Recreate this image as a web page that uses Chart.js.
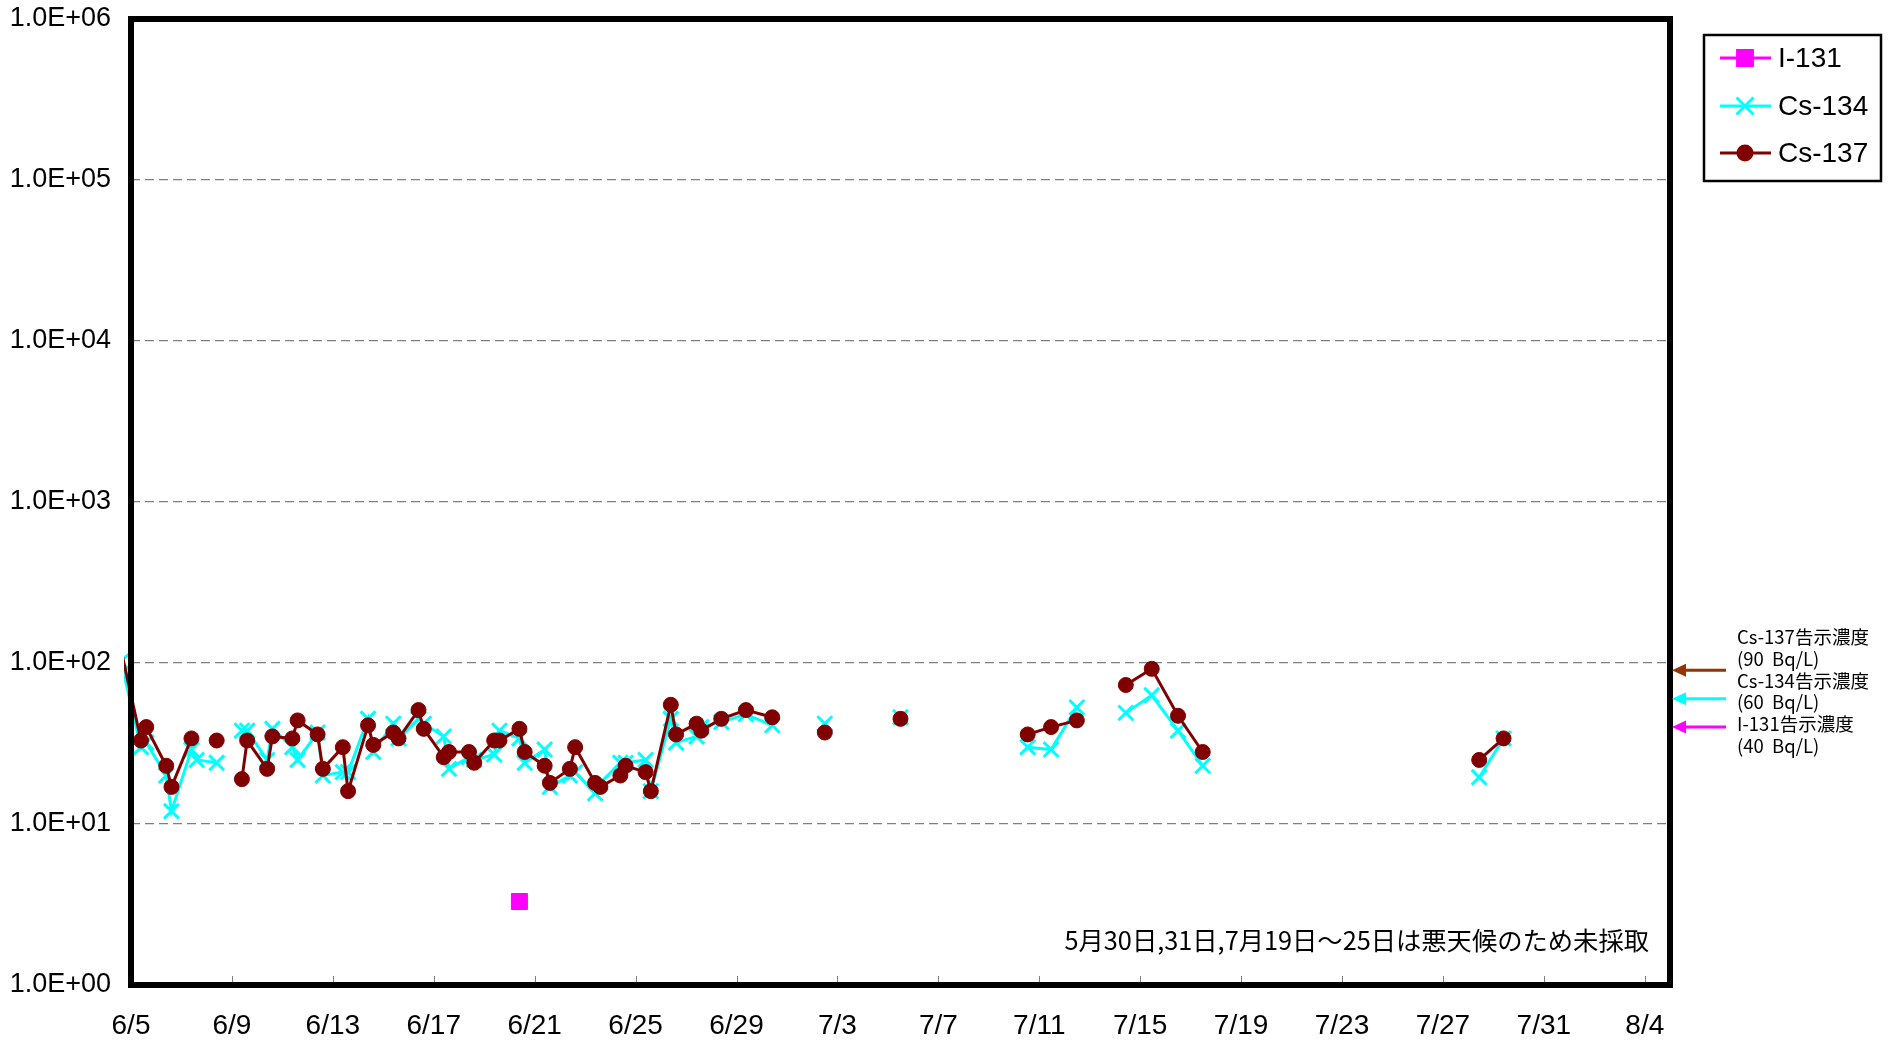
<!DOCTYPE html>
<html>
<head>
<meta charset="utf-8">
<script src="https://cdn.jsdelivr.net/npm/chart.js@4.4.0/dist/chart.umd.min.js"></script>
<style>
html,body{margin:0;padding:0;background:#fff;overflow:hidden}
#wrap{width:1894px;height:1041px;position:relative}
</style>
</head>
<body>
<div id="wrap"><canvas id="c" width="1894" height="1041"></canvas></div>
<script>
// ---- data (sample date/time, values in Bq/L; null = not sampled / not detected) ----
const sampleTimes = [
  "6/4 14:30",
  "6/5 09:30","6/5 14:30","6/6 09:30","6/6 14:30","6/7 09:30","6/7 14:30",
  "6/8 09:30","6/8 14:30","6/9 09:30","6/9 14:30","6/10 09:30","6/10 14:30",
  "6/11 09:30","6/11 14:30","6/12 09:30","6/12 14:30","6/13 09:30","6/13 14:30",
  "6/14 09:30","6/14 14:30","6/15 09:30","6/15 14:30","6/16 09:30","6/16 14:30",
  "6/17 09:30","6/17 14:30","6/18 09:30","6/18 14:30","6/19 09:30","6/19 14:30",
  "6/20 09:30","6/20 14:30","6/21 09:30","6/21 14:30","6/22 09:30","6/22 14:30",
  "6/23 09:30","6/23 14:30","6/24 09:30","6/24 14:30","6/25 09:30","6/25 14:30",
  "6/26 09:30","6/26 14:30","6/27 10:00","6/27 14:30","6/28 09:30","6/29 09:00",
  "6/30 10:00","7/1 12:00","7/2 12:00","7/3 12:00","7/5 12:00","7/6 12:00",
  "7/10 13:00","7/11 11:15","7/12 11:45","7/13 12:00","7/14 10:20","7/15 11:00",
  "7/16 12:00","7/17 11:30","7/18 12:00","7/28 10:30","7/29 09:40"
];
const cs137 = [
  121,
  33,40,23,17,34,null,
  33,null,19,33,22,35,
  34,44,36,22,30,16,
  41,31,37,34,51,39,
  26,28,28,24,33,33,
  39,28,23,18,22,30,
  18,17,20,23,21,16,
  55,36,42,38,45,51,
  46,null,37,null,45,null,
  36,40,44,null,73,92,
  47,28,null,25,34
];
const cs134 = [
  102,
  30,32,20,12,29,25,
  24,null,38,38,25,39,
  30,25,37,20,21,21,
  45,28,42,34,45,42,
  35,22,26,25,27,38,
  34,24,29,17,20,21,
  15.5,18,24,24,25,16,
  45,32,35,40,43,48,
  41,null,42,null,46,null,
  30,29,53,null,49,63,
  38,23,null,19.5,34
];
const i131 = [
  null,
  null,null,null,null,null,null,
  null,null,null,null,null,null,
  null,null,null,null,null,null,
  null,null,null,null,null,null,
  null,null,null,null,null,null,
  3.3,null,null,null,null,null,
  null,null,null,null,null,null,
  null,null,null,null,null,null,
  null,null,null,null,null,null,
  null,null,null,null,null,null,
  null,null,null,null,null
];
const xTickLabels = ["6/5","6/9","6/13","6/17","6/21","6/25","6/29","7/3","7/7","7/11","7/15","7/19","7/23","7/27","7/31","8/4"];
const yTickValues = [1,10,100,1000,10000,100000,1000000];
const yTickLabels = ["1.0E+00","1.0E+01","1.0E+02","1.0E+03","1.0E+04","1.0E+05","1.0E+06"];
const limitLabels = ["Cs-137告示濃度","Cs-134告示濃度","I-131告示濃度"];
const limitUnits = ["(90  Bq/L)","(60  Bq/L)","(40  Bq/L)"];
const limitValues = [90,60,40];
const limitColors = ["#993300","#00FFFF","#FF00FF"];
const noteText = "5月30日,31日,7月19日～25日は悪天候のため未採取";
const axisEnd = "8/5";

// ---- helpers ----
function toDay(s){
  const parts = s.split(" ");
  const md = parts[0].split("/").map(Number);
  const hm = (parts[1] || "00:00").split(":").map(Number);
  return (Date.UTC(2011, md[0]-1, md[1], hm[0], hm[1]) - Date.UTC(2011,5,5)) / 86400000;
}
function series(vals){ return sampleTimes.map((t,i)=>({x: toDay(t), y: vals[i]})); }
const xTickValues = xTickLabels.map(l => toDay(l));

const LATIN = "'Liberation Sans Narrow','Arial Narrow','Liberation Sans',Arial,sans-serif";
const JP = "'Noto Sans CJK JP','Liberation Sans',sans-serif";

const framePlugin = {
  id: 'frame',
  afterDraw(chart){
    const ctx = chart.ctx, a = chart.chartArea;
    const xs = chart.scales.x, ys = chart.scales.y;
    ctx.save();
    // x tick marks (inside, upward)
    ctx.strokeStyle = '#808080'; ctx.lineWidth = 1;
    xTickValues.forEach(v => {
      const px = Math.round(xs.getPixelForValue(v)) + 0.5;
      ctx.beginPath(); ctx.moveTo(px, a.bottom - 3); ctx.lineTo(px, a.bottom - 9); ctx.stroke();
    });
    // thick border
    ctx.strokeStyle = '#000'; ctx.lineWidth = 6;
    ctx.strokeRect(a.left, a.top, a.right - a.left, a.bottom - a.top);

    // legend box
    ctx.lineWidth = 2.5; ctx.strokeStyle = '#000';
    ctx.strokeRect(1704, 35, 177, 146);
    const ds = chart.data.datasets.slice().reverse();
    const ly = [58, 106, 153];
    ds.forEach((d, i) => {
      const y = ly[i];
      ctx.strokeStyle = d.borderColor; ctx.lineWidth = 3;
      ctx.beginPath(); ctx.moveTo(1720, y); ctx.lineTo(1771, y); ctx.stroke();
      ctx.fillStyle = d.pointBackgroundColor; ctx.strokeStyle = d.pointBorderColor;
      Chart.helpers.drawPoint(ctx, {pointStyle: d.pointStyle, radius: d.legendRadius, rotation: 0, borderWidth: d.pointBorderWidth}, 1745, y);
      ctx.fillStyle = '#000'; ctx.font = "28px 'Liberation Sans',Arial,sans-serif";
      ctx.textAlign = 'left'; ctx.textBaseline = 'middle';
      ctx.fillText(d.label, 1778, y + 1);
    });

    // regulatory limit arrows
    limitValues.forEach((v, i) => {
      const y = ys.getPixelForValue(v);
      ctx.strokeStyle = limitColors[i]; ctx.fillStyle = limitColors[i]; ctx.lineWidth = 3;
      ctx.beginPath(); ctx.moveTo(1726, y); ctx.lineTo(1682, y); ctx.stroke();
      ctx.beginPath(); ctx.moveTo(1672, y); ctx.lineTo(1686, y - 6.5); ctx.lineTo(1686, y + 6.5); ctx.closePath(); ctx.fill();
    });
    ctx.fillStyle = '#000'; ctx.font = "18.5px " + JP; ctx.textAlign = 'left'; ctx.textBaseline = 'middle';
    limitLabels.forEach((l, i) => {
      ctx.fillText(l, 1737, 637 + i * 43.5);
      ctx.fillText(limitUnits[i], 1737, 658.5 + i * 43.5);
    });

    // note
    ctx.font = "25.3px " + JP; ctx.textAlign = 'right'; ctx.textBaseline = 'middle';
    ctx.fillText(noteText, 1649, 940);
    ctx.restore();
  }
};

const clipOpt = {left: 7, top: 0, right: 0, bottom: 0};
new Chart(document.getElementById('c'), {
  type: 'line',
  data: {
    datasets: [
      {label: 'Cs-137', data: series(cs137), borderColor: '#800000', backgroundColor: '#800000',
       pointBackgroundColor: '#800000', pointBorderColor: '#800000', pointBorderWidth: 1,
       pointStyle: 'circle', pointRadius: 7.5, legendRadius: 7, borderWidth: 3, spanGaps: false, clip: clipOpt},
      {label: 'Cs-134', data: series(cs134), borderColor: '#00FFFF', backgroundColor: '#00FFFF',
       pointBackgroundColor: '#00FFFF', pointBorderColor: '#00FFFF', pointBorderWidth: 3,
       pointStyle: 'crossRot', pointRadius: 10.5, legendRadius: 12, borderWidth: 3, spanGaps: false, clip: clipOpt},
      {label: 'I-131', data: series(i131), borderColor: '#FF00FF', backgroundColor: '#FF00FF',
       pointBackgroundColor: '#FF00FF', pointBorderColor: '#FF00FF', pointBorderWidth: 1,
       pointStyle: 'rect', pointRadius: 11.3, legendRadius: 10.5, borderWidth: 3, spanGaps: false, clip: clipOpt}
    ]
  },
  options: {
    responsive: false, animation: false, devicePixelRatio: 1, events: [],
    layout: {padding: {top: 19, right: 224, left: 0, bottom: 0}},
    plugins: {legend: {display: false}, tooltip: {enabled: false}},
    scales: {
      x: {
        type: 'linear', min: toDay(xTickLabels[0]), max: toDay(axisEnd),
        afterBuildTicks: s => { s.ticks = xTickValues.map(v => ({value: v})); },
        afterFit: s => { s.height = 56; s.paddingLeft = 0; s.paddingRight = 0; },
        grid: {drawOnChartArea: false, drawTicks: false},
        border: {display: false},
        ticks: {autoSkip: false, maxRotation: 0, padding: 24, color: '#000',
          font: {family: LATIN, size: 28},
          callback: (v, i) => xTickLabels[i]}
      },
      y: {
        type: 'logarithmic', min: yTickValues[0], max: yTickValues[yTickValues.length - 1],
        afterBuildTicks: s => { s.ticks = yTickValues.map(v => ({value: v})); },
        afterFit: s => { s.width = 131; s.paddingTop = 0; s.paddingBottom = 0; },
        grid: {color: '#808080', lineWidth: 1.3, drawTicks: false},
        border: {display: false, dash: [9, 5]},
        ticks: {autoSkip: false, padding: 20, color: '#000',
          font: {family: LATIN, size: 27},
          callback: (v, i) => yTickLabels[i]}
      }
    }
  },
  plugins: [framePlugin]
});
</script>
</body>
</html>
